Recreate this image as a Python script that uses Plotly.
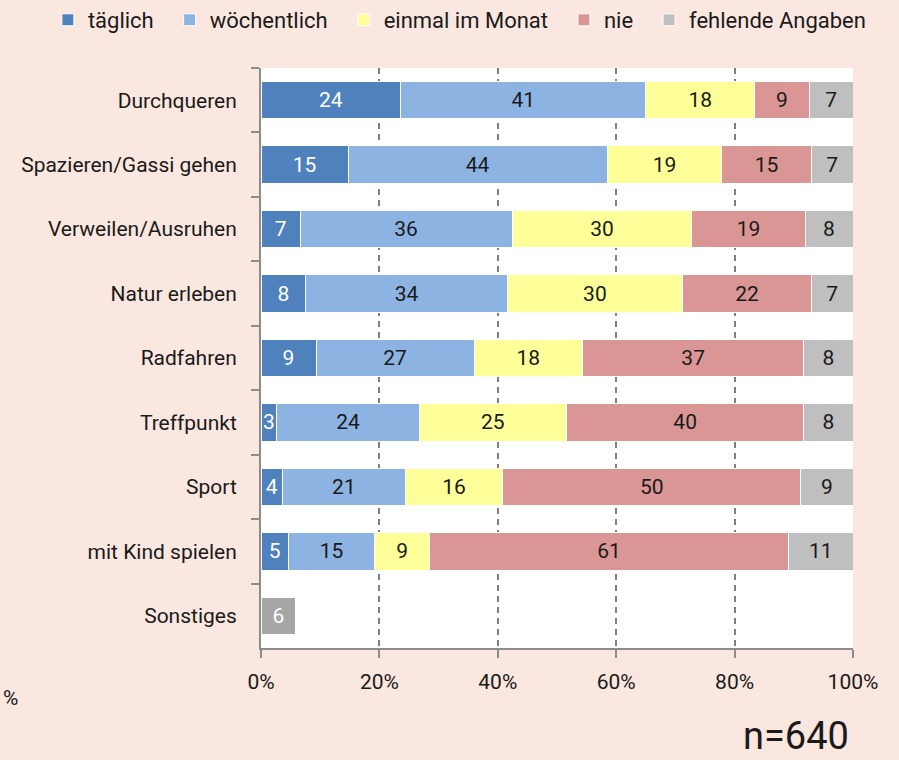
import plotly.graph_objects as go

categories = ["Durchqueren", "Spazieren/Gassi gehen", "Verweilen/Ausruhen", "Natur erleben",
              "Radfahren", "Treffpunkt", "Sport", "mit Kind spielen", "Sonstiges"]

series_names = ["täglich", "wöchentlich", "einmal im Monat", "nie", "fehlende Angaben"]

taeglich     = [23.6, 14.7, 6.6, 7.6, 9.3, 2.7, 3.6, 4.6, None]
woechentlich = [41.4, 43.8, 35.8, 34.0, 26.7, 24.0, 20.8, 14.6, None]
einmal       = [18.4, 19.3, 30.4, 29.6, 18.3, 24.9, 16.4, 9.3, None]
nie          = [9.2, 15.2, 19.1, 21.8, 37.4, 40.1, 50.4, 60.6, None]
fehlend      = [7.4, 7.0, 8.1, 7.0, 8.3, 8.3, 8.8, 10.9, None]
sonstiges    = [None, None, None, None, None, None, None, None, 5.9]

tick_vals = [0, 20, 40, 60, 80, 100]
tick_labels = ["0%", "20%", "40%", "60%", "80%", "100%"]

colors = ["#4f81bd", "#8db3e2", "#ffff99", "#da9694", "#bfbfbf"]
text_colors = ["white", "#1a1a1a", "#1a1a1a", "#1a1a1a", "#1a1a1a"]
series_values = [taeglich, woechentlich, einmal, nie, fehlend]

FONT = "Roboto, sans-serif"
BG = "#fae7df"
PAD = "\u00a0\u00a0"

fig = go.Figure()
for i, (name, vals, col, tcol) in enumerate(zip(series_names, series_values, colors, text_colors)):
    legend_name = name + (PAD if i < len(series_names) - 1 else "")
    fig.add_trace(go.Bar(
        y=categories, x=vals, name=legend_name, orientation="h",
        marker=dict(color=col, line=dict(color="white", width=1)),
        texttemplate="%{x:.0f}", textposition="inside", insidetextanchor="middle",
        textangle=0, textfont=dict(color=tcol, size=21, family=FONT),
        hoverinfo="skip",
    ))

fig.add_trace(go.Bar(
    y=categories, x=sonstiges, name="Sonstiges", orientation="h", showlegend=False,
    marker=dict(color="#a6a6a6", line=dict(color="white", width=1)),
    texttemplate="%{x:.0f}", textposition="inside", insidetextanchor="middle",
    textangle=0, textfont=dict(color="white", size=21, family=FONT),
    hoverinfo="skip",
))

fig.update_layout(
    width=899, height=760,
    barmode="stack", bargap=0.42,
    paper_bgcolor=BG, plot_bgcolor="white",
    margin=dict(l=261, r=46, t=68, b=112, autoexpand=False),
    font=dict(family=FONT, size=21, color="#1a1a1a"),
    uniformtext=dict(minsize=21, mode="show"),
    legend=dict(orientation="h", xref="paper", yref="paper",
                x=-0.36, xanchor="left", y=1.119, yanchor="top",
                font=dict(size=22, family=FONT), bgcolor="rgba(0,0,0,0)",
                itemwidth=30, traceorder="normal"),
    showlegend=True,
)

fig.update_xaxes(
    range=[0, 100], tickmode="array", tickvals=tick_vals, ticktext=tick_labels,
    showgrid=True, gridcolor="#7f7f7f", griddash="6px,5px", gridwidth=1.5,
    zeroline=False, showline=True, linecolor="#8c8c8c", linewidth=2,
    ticks="outside", ticklen=8, tickcolor="#8c8c8c", tickwidth=2,
    tickfont=dict(size=21, family=FONT), ticklabelstandoff=6, fixedrange=True,
)
fig.update_yaxes(
    autorange="reversed", type="category", tickson="boundaries",
    ticks="outside", ticklen=8, tickcolor="#8c8c8c", tickwidth=2,
    showline=True, linecolor="#8c8c8c", linewidth=2, showgrid=False,
    tickfont=dict(size=21, family=FONT), ticklabelstandoff=18,
)

fig.add_annotation(text="%", xref="paper", yref="paper", x=-0.4392, y=-0.086,
                   xanchor="left", yanchor="middle", showarrow=False,
                   font=dict(size=21, family=FONT, color="#1a1a1a"))
fig.add_annotation(text="n=640", xref="paper", yref="paper", x=0.9966, y=-0.1931,
                   xanchor="right", yanchor="bottom", showarrow=False,
                   font=dict(size=38, family=FONT, color="#1a1a1a"))

fig.write_html("out.html", config={"displayModeBar": False},
               post_script="document.body.style.margin='0px';")
